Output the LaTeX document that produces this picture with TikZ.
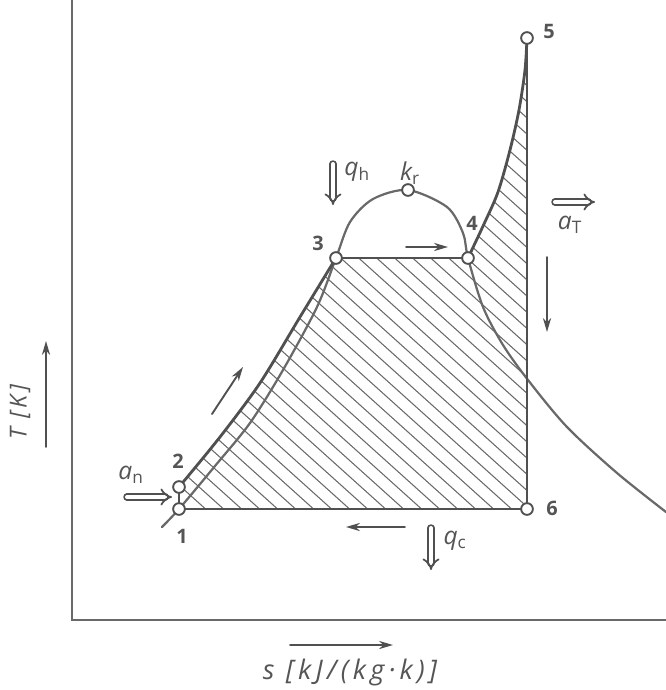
\documentclass[tikz,border=0pt]{standalone}
\usepackage{fontspec}
\setmainfont{Open Sans}
\usetikzlibrary{arrows.meta}
\definecolor{LineGray}{RGB}{80,80,80}
\definecolor{DomeGray}{RGB}{105,105,105}
\definecolor{TextGray}{RGB}{85,85,85}
\tikzset{
  process/.style={draw=LineGray, line width=2.4pt},
  dome/.style={draw=DomeGray, line width=1.9pt},
  hatch/.style={draw=DomeGray, line width=0.9pt},
  axis/.style={draw=DomeGray, line width=1.7pt},
  state/.style={circle, draw=LineGray, fill=white, line width=1.6pt, inner sep=0pt, minimum size=10pt},
  num/.style={text=TextGray, font=\bfseries\fontsize{17}{19}\selectfont},
  sym/.style={text=TextGray, font=\itshape\fontsize{21}{24}\selectfont},
  flow/.style={draw=LineGray, line width=1.6pt, -{Stealth[length=12pt, width=7pt]}},
  heat/.style={draw=LineGray, double, double distance=3.4pt, line width=1.5pt, -{Implies[scale=2.2]}}
}
\begin{document}
\begin{tikzpicture}[x=0.03cm, y=-0.03cm, line cap=round]
  \useasboundingbox (0,0) rectangle (666,690);

  % axes
  \draw[axis] (72,0) -- (72,620) -- (666,620);

  % hatched area of the cycle
  \begin{scope}
    \clip (179,509) -- (179,487)
      -- plot[smooth] coordinates {(179,487) (220,437) (260,383) (300,317) (336,258)}
      -- (468,258)
      -- plot[smooth] coordinates {(468,258) (484,224) (498,192) (510,150) (519,110) (525,70) (527,38)}
      -- (527,509) -- cycle;
    \foreach \c in {-360,-342,...,500}
      \draw[hatch] (\c,0) -- ++(700,630);
  \end{scope}

  % saturation dome
  \draw[dome] plot[smooth] coordinates {(162,527) (179,509) (215,466) (250,423) (283,370)
    (317,307) (336,258) (350,222) (373,199) (408,190) (447,207) (463,233) (468,258)
    (483,307) (503,345) (528,380) (567,427) (617,473) (666,512)};

  % state points
  \coordinate (c1) at (179,509);
  \coordinate (c2) at (179,487);
  \coordinate (c3) at (336,258);
  \coordinate (c4) at (468,258);
  \coordinate (c5) at (527,38);
  \coordinate (c6) at (527,509);
  \coordinate (ckr) at (408,190);

  % cycle
  \draw[process] (c1) -- (c2);
  \draw[process] plot[smooth] coordinates {(179,487) (220,437) (260,383) (300,317) (336,258)};
  \draw[process] (c3) -- (c4);
  \draw[process] plot[smooth] coordinates {(468,258) (484,224) (498,192) (510,150) (519,110) (525,70) (527,38)};
  \draw[process] (c5) -- (c6) -- (c1);

  \node[state] (p1) at (c1) {};
  \node[state] (p2) at (c2) {};
  \node[state] (p3) at (c3) {};
  \node[state] (p4) at (c4) {};
  \node[state] (p5) at (c5) {};
  \node[state] (p6) at (c6) {};
  \node[state] (kr) at (ckr) {};

  \node[num] (l1) at (182,536) {1};
  \node[num] (l2) at (178,461) {2};
  \node[num] (l3) at (318,243) {3};
  \node[num] (l4) at (472,223) {4};
  \node[num] (l5) at (549,31) {5};
  \node[num] (l6) at (552,508) {6};
  \node[sym] (lkr) at (410,173) {k\textsubscript{\normalfont r}};

  % heat and work
  \draw[heat] (333,164) -- (333,205);
  \node[sym] (lqh) at (357,172) {q\textsubscript{\normalfont h}};
  \draw[heat] (555,202) -- (595,202);
  \node[sym] (laT) at (570,225) {a\textsubscript{\normalfont T}};
  \draw[heat] (127,497) -- (172,497);
  \node[sym] (lan) at (131,475) {a\textsubscript{\normalfont n}};
  \draw[heat] (431,528) -- (431,570);
  \node[sym] (lqc) at (455,541) {q\textsubscript{\normalfont c}};

  % direction of the cycle
  \draw[flow] (406,247) -- (448,247);
  \draw[flow] (547,257) -- (547,332);
  \draw[flow] (212,414) -- (243,367);
  \draw[flow] (405,527) -- (346,527);

  % axis labels
  \draw[flow] (46,447) -- (46,341);
  \node[sym, rotate=90, font=\itshape\fontsize{20}{22}\selectfont\addfontfeatures{LetterSpace=14}] (lT) at (20,412) {T [K]};
  \draw[flow] (290,645) -- (393,645);
  \node[sym, font=\itshape\fontsize{23}{25}\selectfont\addfontfeatures{LetterSpace=16}] (ls) at (350,672) {s [kJ/(kg·k)]};
\end{tikzpicture}
\end{document}
